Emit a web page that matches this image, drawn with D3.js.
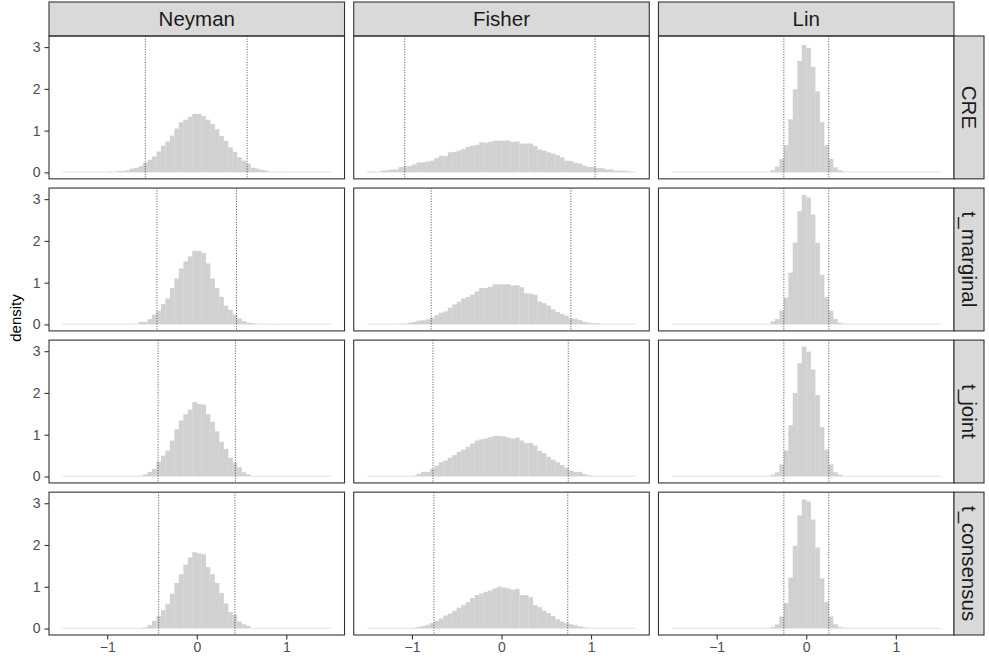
<!DOCTYPE html>
<html lang="en">
<head>
<meta charset="UTF-8">
<title>Randomization distributions</title>
<script src="https://d3js.org/d3.v7.min.js"></script>
<style>
  body { margin: 0; background: #fff; }
  svg { display: block; font-family: "Liberation Sans", Arial, Helvetica, sans-serif; }
  .bar { fill: #d1d1d1; stroke: none; }
  .cut { stroke: #000; stroke-width: 0.7; stroke-dasharray: 1 1.6; }
  .frame { fill: none; stroke: #333; stroke-width: 1.1; }
  .strip { fill: #d9d9d9; stroke: #333; stroke-width: 1.1; }
  .strip-label { fill: #1a1a1a; font-size: 20.5px; }
  .axis-title { fill: #000; font-size: 15px; }
</style>
</head>
<body>
<svg id="chart" width="989" height="666"></svg>
<script>
// facets
const methods = ["Neyman", "Fisher", "Lin"];
const designs = ["CRE", "t_marginal", "t_joint", "t_consensus"];

// histogram bins: 60 bins of width 0.05 starting at -1.5
const binStart = -1.5;
const binWidth = 0.05;
const xTicks = [-1, 0, 1];
const yTicks = [0, 1, 2, 3];

// densities per bin
const neyman_CRE = [0,0,0,0,0,0,0,0,0,0,
  0.02,0,0.03,0.03,0.05,0.09,0.11,0.15,0.23,0.30,
  0.38,0.50,0.64,0.74,0.88,1.05,1.20,1.26,1.33,1.40,
  1.40,1.35,1.26,1.16,1.03,0.87,0.75,0.60,0.49,0.36,
  0.28,0.21,0.11,0.09,0.06,0.04,0.01,0.02,0.02,0.02,
  0,0,0,0,0,0,0,0,0,0];
const neyman_marginal = [0,0,0,0,0,0,0,0,0,0,
  0,0,0,0,0,0,0.02,0.06,0.06,0.13,
  0.23,0.32,0.49,0.62,0.87,1.10,1.34,1.51,1.63,1.76,
  1.76,1.71,1.46,1.10,0.87,0.66,0.45,0.35,0.23,0.14,
  0.08,0.04,0.03,0.02,0,0,0,0,0,0,
  0,0,0,0,0,0,0,0,0,0];
const neyman_joint = [0,0,0,0,0,0,0,0,0,0,
  0,0,0,0,0,0,0,0.02,0.05,0.11,
  0.18,0.35,0.50,0.62,0.86,1.13,1.34,1.49,1.60,1.78,
  1.74,1.72,1.49,1.31,1.08,0.83,0.66,0.45,0.33,0.22,
  0.10,0.05,0,0,0,0,0,0,0,0,
  0,0,0,0,0,0,0,0,0,0];
const neyman_consensus = [0,0,0,0,0,0,0,0,0,0,
  0,0,0,0,0,0,0,0,0.03,0.08,
  0.18,0.30,0.44,0.59,0.83,1.09,1.30,1.53,1.70,1.83,
  1.80,1.78,1.47,1.30,1.09,0.85,0.60,0.39,0.33,0.17,
  0.10,0.06,0,0,0,0,0,0,0,0,
  0,0,0,0,0,0,0,0,0,0];

const fisher_CRE = [0.02,0.02,0.01,0.04,0.05,0.07,0.07,0.13,0.14,0.15,
  0.19,0.24,0.24,0.26,0.28,0.34,0.40,0.39,0.48,0.49,
  0.52,0.56,0.61,0.64,0.66,0.72,0.71,0.73,0.76,0.76,
  0.76,0.76,0.73,0.74,0.69,0.69,0.69,0.63,0.55,0.52,
  0.48,0.45,0.41,0.36,0.28,0.27,0.23,0.21,0.16,0.13,
  0.13,0.10,0.10,0.07,0.07,0.04,0.04,0.04,0.02,0.01];
const fisher_marginal = [0,0,0,0,0,0,0,0.02,0.02,0.04,
  0.06,0.09,0.10,0.12,0.16,0.22,0.28,0.31,0.40,0.48,
  0.54,0.62,0.66,0.71,0.79,0.87,0.87,0.90,0.96,0.96,
  0.96,0.96,0.93,0.94,0.89,0.74,0.74,0.71,0.55,0.51,
  0.45,0.36,0.30,0.25,0.21,0.14,0.14,0.10,0.06,0.04,
  0.03,0.03,0.01,0,0,0,0,0,0,0];
const fisher_joint = [0,0,0,0,0,0,0,0,0,0,
  0.02,0.06,0.11,0.11,0.18,0.26,0.34,0.38,0.45,0.51,
  0.59,0.64,0.71,0.79,0.86,0.89,0.91,0.94,0.97,0.97,
  0.96,0.93,0.91,0.93,0.86,0.80,0.80,0.74,0.61,0.56,
  0.47,0.40,0.34,0.27,0.21,0.14,0.11,0.11,0.06,0.03,
  0,0,0,0,0,0,0,0,0,0];
const fisher_consensus = [0,0,0,0,0,0,0,0,0,0,
  0.02,0.04,0.06,0.09,0.13,0.18,0.24,0.31,0.36,0.42,
  0.50,0.56,0.63,0.73,0.80,0.84,0.88,0.91,0.96,1.00,
  0.98,0.96,0.93,0.95,0.80,0.80,0.75,0.56,0.51,0.43,
  0.37,0.30,0.22,0.17,0.13,0.10,0.08,0.05,0.03,0.02,
  0,0,0,0,0,0,0,0,0,0];

const lin_CRE = [0,0,0,0,0,0,0,0,0,0,
  0,0,0,0,0,0,0,0,0,0,
  0,0.01,0.05,0.14,0.32,0.65,1.27,1.99,2.67,3.05,
  2.98,2.53,1.94,1.20,0.65,0.32,0.12,0.05,0.02,0.01,
  0,0,0,0,0,0,0,0,0,0,
  0,0,0,0,0,0,0,0,0,0];
const lin_marginal = [0,0,0,0,0,0,0,0,0,0,
  0,0,0,0,0,0,0,0,0,0,
  0,0.01,0.07,0.13,0.33,0.64,1.24,1.96,2.71,3.10,
  3.04,2.63,1.96,1.19,0.65,0.33,0.13,0.04,0.02,0.01,
  0,0,0,0,0,0,0,0,0,0,
  0,0,0,0,0,0,0,0,0,0];
const lin_joint = [0,0,0,0,0,0,0,0,0,0,
  0,0,0,0,0,0,0,0,0,0,
  0,0.01,0.04,0.10,0.29,0.62,1.23,2.00,2.71,3.11,
  2.99,2.56,1.95,1.18,0.64,0.29,0.10,0.04,0.01,0,
  0,0,0,0,0,0,0,0,0,0,
  0,0,0,0,0,0,0,0,0,0];
const lin_consensus = [0,0,0,0,0,0,0,0,0,0,
  0,0,0,0,0,0,0,0,0,0,
  0,0.01,0.04,0.10,0.29,0.61,1.22,1.98,2.71,3.09,
  3.04,2.61,1.94,1.20,0.64,0.29,0.10,0.04,0.02,0,
  0,0,0,0,0,0,0,0,0,0,
  0,0,0,0,0,0,0,0,0,0];

// dotted reference lines, one pair per design row
const cutoffs_Neyman = [[-0.575, 0.562], [-0.445, 0.444], [-0.432, 0.431], [-0.425, 0.426]];
const cutoffs_Fisher = [[-1.08, 1.045], [-0.785, 0.775], [-0.765, 0.745], [-0.755, 0.74]];
const cutoffs_Lin = [[-0.25, 0.252], [-0.25, 0.252], [-0.25, 0.252], [-0.25, 0.252]];

const densities = {
  Neyman: [neyman_CRE, neyman_marginal, neyman_joint, neyman_consensus],
  Fisher: [fisher_CRE, fisher_marginal, fisher_joint, fisher_consensus],
  Lin: [lin_CRE, lin_marginal, lin_joint, lin_consensus]
};
const cutoffs = { Neyman: cutoffs_Neyman, Fisher: cutoffs_Fisher, Lin: cutoffs_Lin };

// layout
const panelLeft = 49, panelTop = 36, panelRight = 954, panelBottom = 635;
const gap = 9.2;
const stripH = 34, stripW = 30;
const pw = (panelRight - panelLeft - 2 * gap) / 3;
const ph = (panelBottom - panelTop - 3 * gap) / 4;
const tickFont = "14px";

const nBins = neyman_CRE.length;
const xLo = binStart, xHi = binStart + nBins * binWidth;
const xPad = (xHi - xLo) * 0.05;
const x = d3.scaleLinear().domain([xLo - xPad, xHi + xPad]).range([0, pw]);

const yMax = d3.max(Object.values(densities).flat(2));
const y = d3.scaleLinear().domain([-0.05 * yMax, 1.05 * yMax]).range([ph, 0]);

const svg = d3.select("#chart");

function styleAxis(a) {
  a.attr("font-size", null).attr("font-family", null);
  a.select(".domain").remove();
  a.selectAll(".tick line").attr("stroke", "#333").attr("stroke-width", 1.1);
  a.selectAll(".tick text").attr("fill", "#4d4d4d")
    .style("font-size", tickFont)
    .style("font-family", "'Liberation Sans', Arial, sans-serif");
}

methods.forEach((m, c) => {
  const px = panelLeft + c * (pw + gap);

  // top strip
  const st = svg.append("g").attr("transform", `translate(${px},${panelTop - stripH})`);
  st.append("rect").attr("class", "strip").attr("width", pw).attr("height", stripH);
  st.append("text").attr("class", "strip-label")
    .attr("x", pw / 2).attr("y", stripH / 2).attr("dy", "0.35em")
    .attr("text-anchor", "middle").text(m);

  designs.forEach((d, r) => {
    const py = panelTop + r * (ph + gap);
    const g = svg.append("g").attr("transform", `translate(${px},${py})`);

    const bins = densities[m][r].map((h, i) => ({
      x0: binStart + i * binWidth,
      x1: binStart + (i + 1) * binWidth,
      h
    }));

    g.selectAll("rect.bar").data(bins).join("rect")
      .attr("class", "bar")
      .attr("x", b => x(b.x0))
      .attr("width", b => x(b.x1) - x(b.x0) + 0.2)
      .attr("y", b => Math.min(y(b.h), y(0) - 0.6))
      .attr("height", b => Math.max(y(0) - y(b.h), 0.6));

    g.selectAll("line.cut").data(cutoffs[m][r]).join("line")
      .attr("class", "cut")
      .attr("x1", v => x(v)).attr("x2", v => x(v))
      .attr("y1", 0).attr("y2", ph);

    g.append("rect").attr("class", "frame").attr("width", pw).attr("height", ph);

    if (c === 0) {
      g.append("g")
        .call(d3.axisLeft(y).tickValues(yTicks).tickFormat(d3.format("d")).tickSize(4.5).tickPadding(4))
        .call(styleAxis);
    }
    if (r === designs.length - 1) {
      g.append("g").attr("transform", `translate(0,${ph})`)
        .call(d3.axisBottom(x).tickValues(xTicks).tickFormat(d3.format("d")).tickSize(4.5).tickPadding(3))
        .call(styleAxis);
    }

    if (c === methods.length - 1) {
      const sr = svg.append("g").attr("transform", `translate(${panelRight},${py})`);
      sr.append("rect").attr("class", "strip").attr("width", stripW).attr("height", ph);
      sr.append("text").attr("class", "strip-label")
        .attr("transform", `translate(${stripW / 2},${ph / 2}) rotate(90)`)
        .attr("dy", "0.35em").attr("text-anchor", "middle").text(d);
    }
  });
});

svg.append("text").attr("class", "axis-title")
  .attr("transform", "translate(21,318) rotate(-90)")
  .attr("text-anchor", "middle").text("density");
</script>
</body>
</html>
